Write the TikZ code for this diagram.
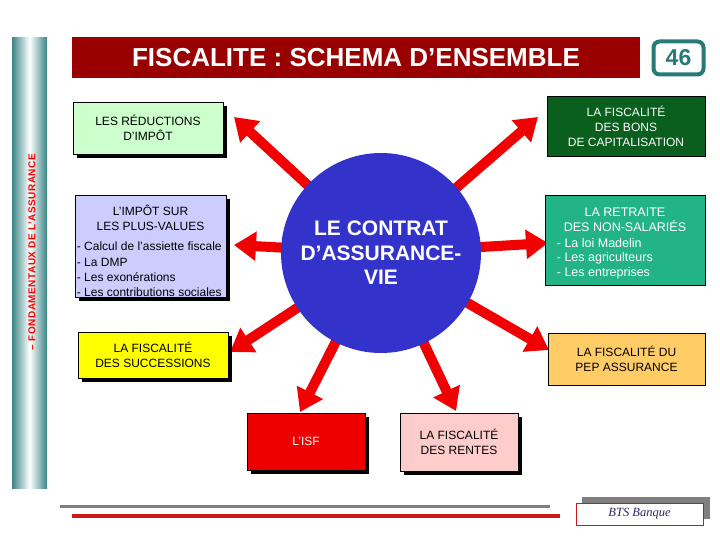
\documentclass[tikz,border=0pt]{standalone}
\usepackage{fontspec}
\setmainfont{Liberation Sans}
\newfontfamily\bannerfont{Liberation Serif}
\usetikzlibrary{arrows.meta,shadows}

\definecolor{titlered}{HTML}{990000}
\definecolor{barteal}{HTML}{3A8585}
\definecolor{numteal}{HTML}{267A7A}
\definecolor{reducgreen}{HTML}{CCFFCC}
\definecolor{impotblue}{HTML}{CCCCFF}
\definecolor{bonsgreen}{HTML}{0A5E1E}
\definecolor{retraitegreen}{HTML}{22B487}
\definecolor{succyellow}{HTML}{FFFF00}
\definecolor{peporange}{HTML}{FFCC66}
\definecolor{isfred}{HTML}{EE0000}
\definecolor{rentespink}{HTML}{FFCCCC}
\definecolor{contratblue}{HTML}{3333CC}
\definecolor{arrowred}{HTML}{F00000}
\definecolor{footgray}{HTML}{808080}
\definecolor{footred}{HTML}{CC1A1A}
\definecolor{bannerblue}{HTML}{2A2A6A}

\begin{document}
\begin{tikzpicture}[x=1pt,y=-1pt,
  box/.style={draw=black, line width=0.6pt, inner sep=0pt, align=center,
    font={\fontsize{12}{15}\selectfont}},
  shadowbox/.style={box, general shadow={fill=black, shadow xshift=4pt, shadow yshift=-4pt}},
  listtext/.style={inner sep=1pt, align=left, font={\fontsize{12}{15.4}\selectfont}},
  redarrow/.style={line width=10pt, draw=arrowred, -{Triangle[length=22pt,width=28pt]}}]
  \useasboundingbox (0,0) rectangle (720,540);

  % Left shaded band with its vertical caption
  \shade[left color=barteal, right color=barteal, middle color=white] (12,38) rectangle (47,488);
  \node[rotate=90, text=red, font={\fontsize{10}{12}\selectfont\bfseries\addfontfeature{LetterSpace=5}}] (bandtext) at (32,252) {-- FONDAMENTAUX DE L'ASSURANCE};

  % Title banner and page number
  \node[fill=titlered, minimum width=568pt, minimum height=41pt, text=white,
    font={\fontsize{26}{28}\selectfont\bfseries}] (title) at (356,57.5) {FISCALITE : SCHEMA D'ENSEMBLE};
  \node[draw=numteal, line width=4pt, rounded corners=6pt, fill=white, minimum width=50pt, minimum height=33pt,
    inner sep=0pt, text=numteal, font={\fontsize{23}{24}\selectfont\bfseries}] (pagenum) at (678.5,58) {46};

  % Arrow tips around the contract
  \coordinate (tipreduc) at (234,117);
  \coordinate (tipbons) at (538,117);
  \coordinate (tipimpot) at (234,245);
  \coordinate (tipretraite) at (548,243);
  \coordinate (tipsucc) at (230,352);
  \coordinate (tippep) at (549,350);
  \coordinate (tipisf) at (300,412);
  \coordinate (tiprentes) at (456,411);
  \coordinate (centre) at (381,253);

  \foreach \t in {tipreduc,tipbons,tipimpot,tipretraite,tipsucc,tippep,tipisf,tiprentes}
    \draw[redarrow] (centre) -- (\t);

  % The contract in the middle
  \node[circle, fill=contratblue, minimum size=200pt, inner sep=0pt, align=center, text=white,
    font={\fontsize{21}{24.5}\selectfont\bfseries}] (contrat) at (centre) {LE CONTRAT\\D'ASSURANCE-\\VIE};

  % Boxes on the left
  \node[shadowbox, fill=reducgreen, minimum width=150pt, minimum height=52pt] (reduc) at (148,128) {LES RÉDUCTIONS\\D'IMPÔT};
  \node[shadowbox, fill=impotblue, minimum width=151pt, minimum height=102pt] (impot) at (150.5,246) {};
  \node[anchor=north, yshift=-9pt, inner sep=1pt, align=center, font={\fontsize{12}{15}\selectfont}] (impottitle) at (impot.north) {L'IMPÔT SUR\\LES PLUS-VALUES};
  \node[listtext, anchor=south west, xshift=1pt, yshift=-1pt] (impotlist) at (impot.south west)
    {- Calcul de l'assiette fiscale\\- La DMP\\- Les exonérations\\- Les contributions sociales};
  \node[shadowbox, fill=succyellow, minimum width=150pt, minimum height=46pt] (succ) at (153,355) {LA FISCALITÉ\\DES SUCCESSIONS};

  % Boxes on the right
  \node[box, fill=bonsgreen, text=white, minimum width=158pt, minimum height=60pt] (bons) at (626,126) {LA FISCALITÉ\\DES BONS\\DE CAPITALISATION};
  \node[box, fill=retraitegreen, minimum width=160pt, minimum height=90pt] (retraite) at (625,240) {};
  \node[anchor=north, yshift=-12pt, inner sep=1pt, align=center, text=white, font={\fontsize{12.5}{15}\selectfont}] (retraitetitle) at (retraite.north) {LA RETRAITE\\DES NON-SALARIÉS};
  \node[listtext, text=white, font={\fontsize{12.5}{14.6}\selectfont}, anchor=south west, xshift=11pt, yshift=5pt] (retraitelist) at (retraite.south west)
    {- La loi Madelin\\- Les agriculteurs\\- Les entreprises};
  \node[box, fill=peporange, minimum width=157pt, minimum height=52pt] (pep) at (626.5,359) {LA FISCALITÉ DU\\PEP ASSURANCE};

  % Boxes below
  \node[shadowbox, fill=isfred, text=white, minimum width=118pt, minimum height=57pt] (isf) at (306,441.5) {L'ISF};
  \node[shadowbox, fill=rentespink, minimum width=118pt, minimum height=58pt] (rentes) at (459,442) {LA FISCALITÉ\\DES RENTES};

  % Footer
  \draw[footgray, line width=3.5pt] (60,506.5) -- (550,506.5);
  \draw[footred, line width=4pt] (72,515.5) -- (560,515.5);
  \fill[footgray] (582,497) rectangle (710,519);
  \node[draw=footred, fill=white, line width=0.8pt, minimum width=127pt, minimum height=22pt, inner sep=0pt,
    text=bannerblue, font={\bannerfont\itshape\fontsize{12.5}{14}\selectfont}] (banner) at (639.5,514) {BTS Banque};
\end{tikzpicture}
\end{document}
